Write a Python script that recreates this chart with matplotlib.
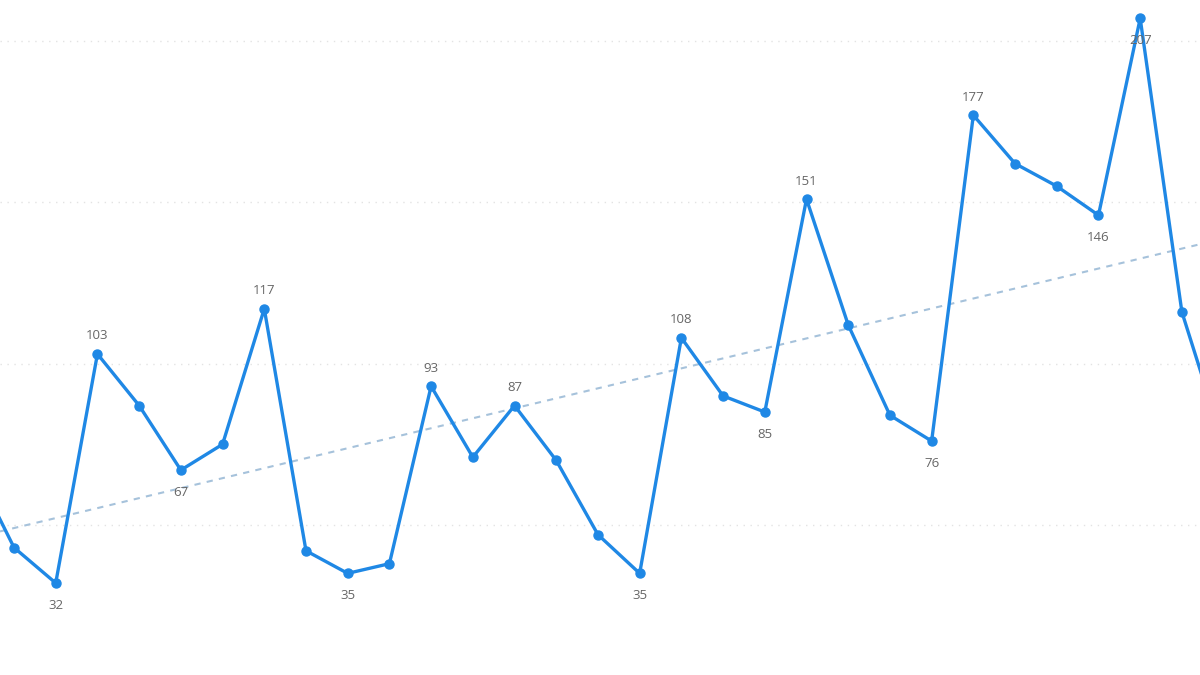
import numpy as np
import matplotlib
matplotlib.use("Agg")
import matplotlib.pyplot as plt

# values (points partly outside the crop at both ends)
values = [69, 43, 32, 103, 87, 67, 75, 117, 42, 35, 38, 93, 71, 87, 70, 47, 35,
          108, 90, 85, 151, 112, 84, 76, 177, 162, 155, 146, 207, 116, 75]
# which points carry a data label, and where it sits
label_idx = [2, 3, 5, 7, 9, 11, 13, 16, 17, 19, 20, 23, 24, 27, 28]
label_pos = ['below', 'above', 'below', 'above', 'below', 'above', 'above', 'below',
             'above', 'below', 'above', 'below', 'above', 'below', 'below']
# trend line ends (value at left / right edge of the crop)
trend_x = [0.664, 29.434]
trend_y = [48.0, 137.0]
grid_y = [50, 100, 150, 200]

line_col = '#1f88e5'
x = np.arange(len(values))

fig = plt.figure(figsize=(12, 6.75), dpi=100)
ax = fig.add_axes([0, 0, 1, 1])

for g in grid_y:
    ax.axhline(g, color='#e3e3e3', lw=1, ls=(0, (1, 4)), zorder=0)

ax.plot(trend_x, trend_y, color='#a6c2db', lw=1.5, ls=(0, (3, 3)), zorder=1)
ax.plot(x, values, color=line_col, lw=2.4, marker='o', ms=6.5,
        solid_joinstyle='miter', zorder=2)

for i, p in zip(label_idx, label_pos):
    dy = 13 if p == 'above' else -16
    ax.annotate(str(values[i]), (x[i], values[i]), xytext=(0, dy),
                textcoords='offset points', ha='center', va='center',
                fontsize=9.5, color='#666666', family='Open Sans', zorder=3)

ax.set_xlim(0.664, 29.434)
ax.set_ylim(3.5, 212.7)
ax.axis('off')

fig.savefig('out.png', dpi=100, facecolor='white')
